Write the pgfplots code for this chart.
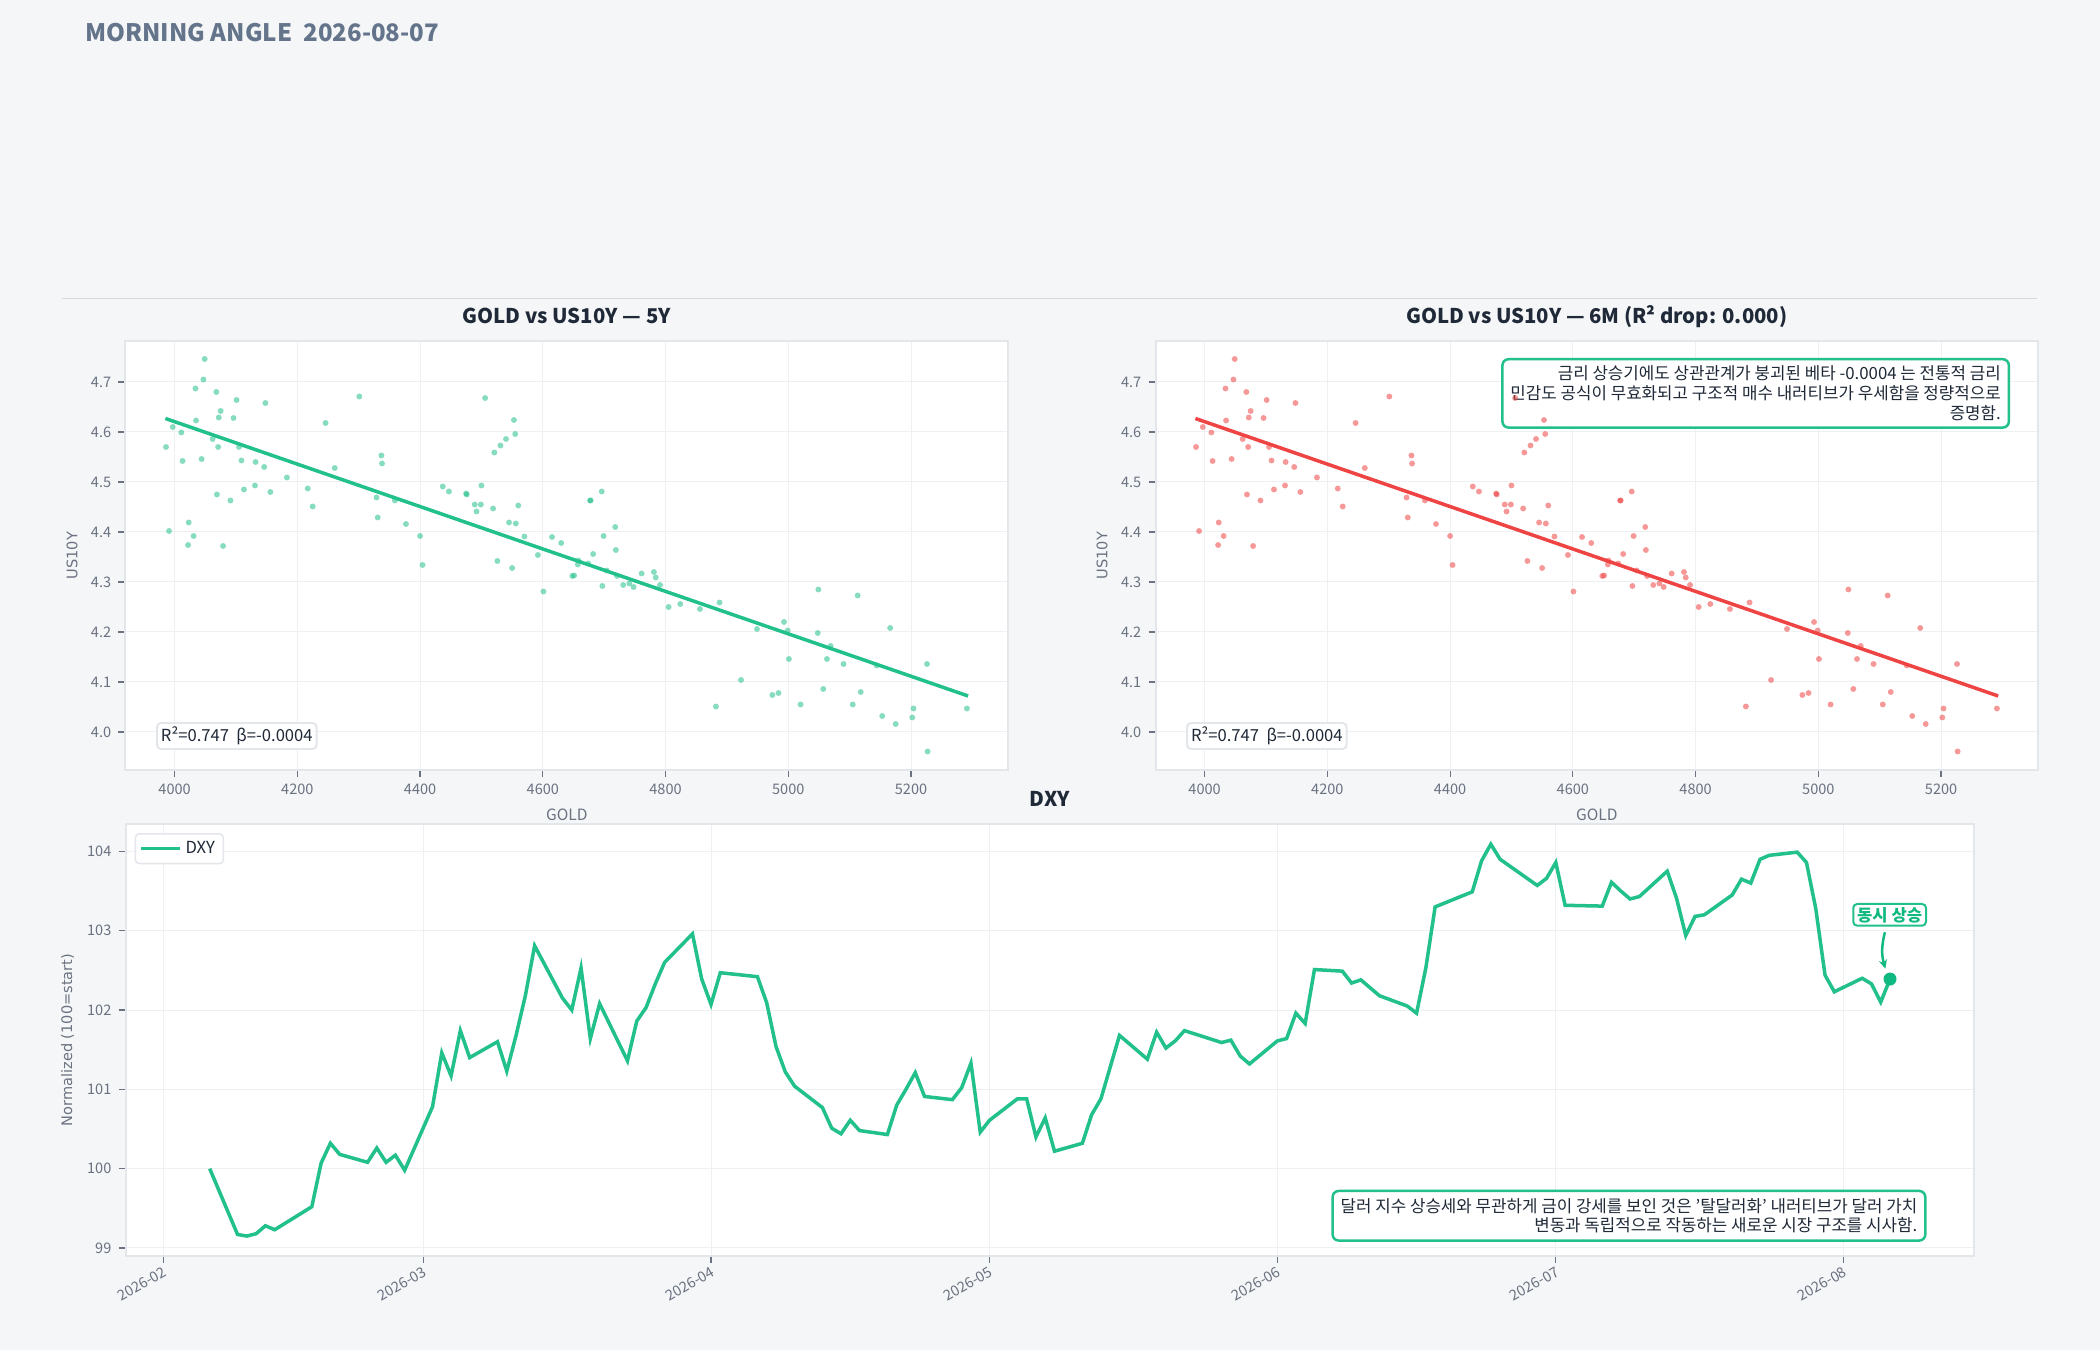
\documentclass[border=0pt]{standalone}
\usepackage{fontspec}
\setmainfont{Noto Sans CJK KR}
\newfontfamily\dejavu{DejaVu Sans}
\usepackage{pgfplots}
\usepackage{pgfplotstable}
\pgfplotsset{compat=1.18}
\usetikzlibrary{arrows.meta}

\definecolor{bg}{HTML}{F4F6F8}
\definecolor{grn}{HTML}{22C08A}
\definecolor{grndot}{HTML}{10B981}
\definecolor{rd}{HTML}{EF4444}
\definecolor{tickc}{HTML}{6B7280}
\definecolor{titlec}{HTML}{1F2937}
\definecolor{spinec}{HTML}{E3E6EB}
\definecolor{gridc}{HTML}{EEF0F3}
\definecolor{headc}{HTML}{64748B}
\definecolor{sepc}{HTML}{D5D9DF}

\newcommand{\ticksz}{\fontsize{7}{8.4}\selectfont}
\newcommand{\labsz}{\fontsize{7.5}{9}\selectfont}
\newcommand{\ttlsz}{\fontsize{9.8}{12}\selectfont\bfseries}
\newcommand{\annsz}{\fontsize{8.1}{9.5}\selectfont}

\pgfplotstableread{
x y
3986 4.570
3991 4.402
3997 4.610
4011 4.599
4013 4.542
4023 4.419
4022 4.374
4031 4.392
4034 4.687
4035 4.623
4044 4.546
4047 4.705
4049 4.746
4062 4.586
4068 4.680
4069 4.475
4071 4.570
4072 4.629
4075 4.642
4079 4.372
4091 4.463
4096 4.628
4101 4.664
4105 4.570
4109 4.543
4113 4.485
4131 4.493
4132 4.540
4146 4.530
4148 4.658
4156 4.480
4183 4.509
4217 4.487
4225 4.451
4246 4.618
4261 4.528
4301 4.671
4329 4.469
4331 4.429
4337 4.553
4338 4.537
4359 4.463
4377 4.416
4400 4.392
4404 4.334
4437 4.491
4447 4.481
4475 4.477
4476 4.475
4489 4.455
4492 4.441
4499 4.455
4500 4.493
4506 4.668
4519 4.447
4521 4.559
4526 4.342
4531 4.573
4540 4.586
4545 4.419
4550 4.328
4553 4.624
4555 4.596
4556 4.417
4560 4.453
4570 4.391
4592 4.354
4601 4.281
4615 4.390
4630 4.378
4648 4.312
4651 4.313
4657 4.335
4658 4.343
4674 4.337
4677 4.463
4678 4.463
4682 4.356
4696 4.481
4697 4.292
4699 4.392
4704 4.323
4718 4.410
4719 4.364
4721 4.312
4731 4.294
4741 4.297
4748 4.290
4761 4.317
4781 4.320
4784 4.309
4791 4.294
4805 4.250
4824 4.256
4856 4.246
4888 4.259
4882 4.051
4923 4.104
4949 4.206
4974 4.074
4984 4.078
4993 4.220
4999 4.203
5001 4.146
5020 4.055
5049 4.285
5048 4.198
5057 4.086
5063 4.146
5069 4.172
5090 4.136
5105 4.055
5113 4.273
5118 4.080
5144 4.133
5153 4.032
5166 4.208
5175 4.016
5202 4.029
5204 4.047
5226 4.136
5227 3.961
5291 4.047
}\golddata

\pgfplotstableread{
x y
3985 4.627
5293 4.072
}\fitline

\pgfplotstableread{
d v
5 100.00
8 99.17
9 99.15
10 99.18
11 99.28
12 99.23
16 99.52
17 100.07
18 100.32
19 100.18
22 100.08
23 100.26
24 100.08
25 100.17
26 99.98
29 100.78
30 101.46
31 101.17
32 101.74
33 101.40
36 101.60
37 101.23
38 101.68
39 102.18
40 102.81
43 102.15
44 102.00
45 102.53
46 101.64
47 102.08
50 101.36
51 101.86
52 102.03
53 102.33
54 102.60
57 102.96
58 102.39
59 102.07
60 102.47
64 102.42
65 102.09
66 101.54
67 101.22
68 101.04
71 100.77
72 100.51
73 100.44
74 100.61
75 100.48
78 100.43
79 100.80
80 101.00
81 101.21
82 100.91
85 100.87
86 101.02
87 101.33
88 100.46
89 100.61
92 100.88
93 100.88
94 100.40
95 100.64
96 100.22
99 100.32
100 100.68
101 100.88
102 101.28
103 101.68
106 101.38
107 101.72
108 101.52
109 101.61
110 101.74
114 101.59
115 101.62
116 101.42
117 101.32
120 101.61
121 101.64
122 101.96
123 101.83
124 102.51
127 102.49
128 102.34
129 102.38
130 102.28
131 102.18
134 102.05
135 101.96
136 102.53
137 103.30
141 103.49
142 103.88
143 104.09
144 103.90
148 103.57
149 103.66
150 103.86
151 103.32
155 103.31
156 103.61
157 103.50
158 103.40
159 103.43
162 103.75
163 103.41
164 102.94
165 103.18
166 103.20
169 103.45
170 103.65
171 103.60
172 103.90
173 103.95
176 103.99
177 103.86
178 103.28
179 102.44
180 102.23
183 102.40
184 102.33
185 102.10
186 102.39
}\dxydata

\pgfplotsset{
  base/.style={
    scale only axis, clip=false,
    axis background/.style={fill=white},
    axis line style={spinec, line width=0.964pt},
    grid=major, major grid style={gridc, line width=0.48pt},
    tick style={tickc, line width=0.58pt},
    major tick length=3.37pt,
    tick align=outside,
    tick pos=left,
    ticklabel style={font=\ticksz, text=tickc},
    /pgf/number format/assume math mode=true,
    /pgf/number format/set thousands separator={},
    every axis title shift=0pt,
  },
  scat/.style={
    base,
    width=425.19pt, height=206.69pt,
    xmin=3920, xmax=5358, ymin=3.924, ymax=4.782,
    xtick={4000,4200,4400,4600,4800,5000,5200},
    ytick={4.0,4.1,4.2,4.3,4.4,4.5,4.6,4.7},
    yticklabel style={/pgf/number format/fixed, /pgf/number format/fixed zerofill, /pgf/number format/precision=1},
    xlabel={GOLD},
    xlabel style={at={(axis description cs:0.5,-0.1182)}, anchor=base, font=\labsz, text=tickc},
    ylabel={\dejavu US10Y},
    ylabel style={at={(axis description cs:-0.0606,0.5)}, anchor=center, font=\ticksz, text=tickc},
    title style={at={(axis description cs:0.5,1.0413)}, anchor=base, yshift=0pt, font=\ttlsz, text=titlec},
  },
}

\begin{document}
\begin{tikzpicture}
\begin{scope}[x=0.4818pt,y=0.4818pt]
\fill[bg] (0,0) rectangle (2100,1350);
\useasboundingbox (0,0) rectangle (2100,1350);
\node[anchor=base west, inner sep=0, font=\fontsize{11.6}{14}\selectfont\bfseries, text=headc] at (85,1308) {MORNING ANGLE\ \ 2026-08-07};
\draw[sepc, line width=0.72pt] (62,1051.5) -- (2037,1051.5);
\end{scope}

% left scatter
\begin{axis}[scat, at={(60.46pt,279.44pt)}, anchor=south west, title={GOLD vs US10Y — 5Y}]
\addplot[grn, only marks, mark=*, mark size=1.42pt, mark options={solid, draw opacity=0, fill=grn, fill opacity=0.55}] table[x=x,y=y] {\golddata};
\addplot[grn, line width=1.69pt] table[x=x,y=y] {\fitline};
\node[anchor=south west, draw=spinec, line width=0.96pt, rounded corners=1.9pt, fill=white, fill opacity=0.9, text opacity=1, text=titlec, font=\fontsize{8}{9.6}\selectfont, inner xsep=1.9pt, inner ysep=1.9pt] at (rel axis cs:0.0346,0.0466) {R²=0.747\ \ β=-0.0004};
\end{axis}

% right scatter
\begin{axis}[scat, at={(556.72pt,279.44pt)}, anchor=south west, title={GOLD vs US10Y — 6M (R² drop: 0.000)}]
\addplot[rd, only marks, mark=*, mark size=1.42pt, mark options={solid, draw opacity=0, fill=rd, fill opacity=0.55}] table[x=x,y=y] {\golddata};
\addplot[rd, line width=1.69pt] table[x=x,y=y] {\fitline};
\node[anchor=south west, draw=spinec, line width=0.96pt, rounded corners=1.9pt, fill=white, fill opacity=0.9, text opacity=1, text=titlec, font=\fontsize{8}{9.6}\selectfont, inner xsep=1.9pt, inner ysep=1.9pt] at (rel axis cs:0.0346,0.0466) {R²=0.747\ \ β=-0.0004};
\node[anchor=north east, draw=grn, line width=1.2pt, rounded corners=2.9pt, fill=white, text=titlec, font=\annsz, align=right, inner xsep=3.85pt, inner ysep=3.3pt] at (rel axis cs:0.9683,0.9604) {금리 상승기에도 상관관계가 붕괴된 베타 -0.0004 는 전통적 금리\\민감도 공식이 무효화되고 구조적 매수 내러티브가 우세함을 정량적으로\\증명함.};
\end{axis}

% bottom DXY
\begin{axis}[base, at={(60.56pt,45.48pt)}, anchor=south west,
  width=890.51pt, height=207.75pt,
  xmin=-4.05, xmax=195.05, ymin=98.904, ymax=104.34,
  xtick={0,28,59,89,120,150,181},
  xticklabels={2026-02,2026-03,2026-04,2026-05,2026-06,2026-07,2026-08},
  xticklabel style={rotate=30, anchor=north east, inner sep=1pt},
  ytick={99,100,101,102,103,104},
  ylabel={\dejavu Normalized (100=start)},
  ylabel style={at={(axis description cs:-0.0314,0.5)}, anchor=center, font=\ticksz, text=tickc},
  title={DXY},
  title style={at={(axis description cs:0.5,1.0404)}, anchor=base, yshift=0pt, font=\ttlsz, text=titlec},
  legend style={at={(0.0048,0.98)}, anchor=north west, draw=spinec, line width=0.72pt, rounded corners=1.9pt, fill=white, font=\fontsize{8}{9.6}\selectfont, text=titlec, inner xsep=2pt, inner ysep=1.5pt},
  legend image code/.code={\draw[#1] (0pt,0pt) -- (18.5pt,0pt);},
]
\addplot[grn, line width=1.69pt] table[x=d,y=v] {\dxydata};
\addlegendentry{DXY}
\addplot[grndot, only marks, mark=*, mark size=3.13pt, mark options={solid, draw opacity=0, fill=grndot}, forget plot] coordinates {(186,102.39)};
\node[draw=grn, line width=0.96pt, rounded corners=1.9pt, fill=white, text=grndot, font=\fontsize{8}{9.6}\selectfont\bfseries, inner xsep=1.9pt, inner ysep=1.45pt] at (axis cs:185.96,103.20) {동시 상승};
\draw[grndot, line width=1.2pt, -{Stealth[length=4.3pt,width=3.9pt]}] (axis cs:185.45,102.98) to[bend right=15] (axis cs:185.5,102.52);
\node[anchor=south east, draw=grn, line width=1.2pt, rounded corners=2.9pt, fill=white, text=titlec, font=\annsz, align=right, inner xsep=3.85pt, inner ysep=3.5pt] at (rel axis cs:0.9743,0.032) {달러 지수 상승세와 무관하게 금이 강세를 보인 것은 '탈달러화' 내러티브가 달러 가치\\변동과 독립적으로 작동하는 새로운 시장 구조를 시사함.};
\end{axis}
\end{tikzpicture}
\end{document}
